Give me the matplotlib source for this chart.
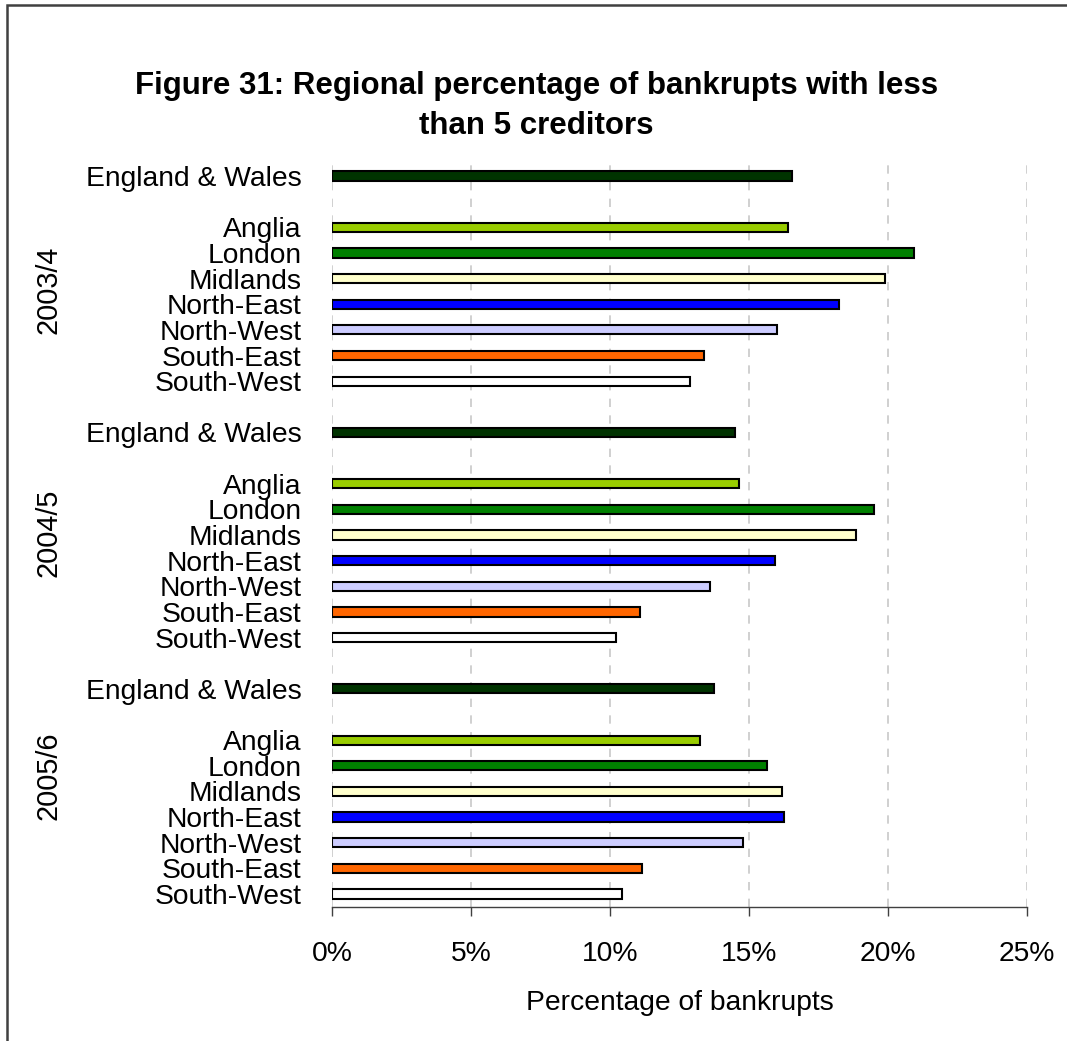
import matplotlib
matplotlib.use("Agg")
import matplotlib.pyplot as plt
from matplotlib.patches import Rectangle
from matplotlib.ticker import FuncFormatter
from matplotlib.transforms import blended_transform_factory

plt.rcParams['font.family'] = ['Liberation Sans', 'DejaVu Sans']

# Data: percentage of bankrupts with fewer than 5 creditors
years = ['2003/4', '2004/5', '2005/6']
regions = ['England & Wales', 'Anglia', 'London', 'Midlands', 'North-East',
           'North-West', 'South-East', 'South-West']
england_wales = [16.54, 14.50, 13.73]
anglia = [16.39, 14.64, 13.24]
london = [20.94, 19.47, 15.63]
midlands = [19.89, 18.83, 16.18]
north_east = [18.22, 15.91, 16.25]
north_west = [15.99, 13.59, 14.78]
south_east = [13.38, 11.07, 11.14]
south_west = [12.88, 10.22, 10.43]
x_ticks = [0, 5, 10, 15, 20, 25]

series = [england_wales, anglia, london, midlands, north_east,
          north_west, south_east, south_west]
colors = ['#003300', '#99CC00', '#008000', '#FFFFCC', '#0000FF',
          '#CCCCFF', '#FF6600', '#FFFFFF']

# Row offsets inside one year block: national total, a gap, then the regions
row_offsets = [0, 2, 3, 4, 5, 6, 7, 8]
block_size = 10
year_label_rows = [4.45, 13.9, 23.4]

FS = 20.3

fig = plt.figure(figsize=(10.67, 10.41), dpi=100)
W, H = 1067, 1041
ax = fig.add_axes([332.3 / W, 134.2 / H, 695 / W, 743.6 / H])

ypos, widths, cols, labels = [], [], [], []
for g, yr in enumerate(years):
    for s, off in enumerate(row_offsets):
        ypos.append(g * block_size + off)
        widths.append(series[s][g])
        cols.append(colors[s])
        labels.append(regions[s])

ax.barh(ypos, widths, height=0.36, color=cols, edgecolor='black',
        linewidth=1.5, zorder=3)

ax.set_ylim(28.5, -0.5)
ax.set_xlim(0, 25)
ax.set_yticks(ypos)
ax.set_yticklabels(labels, fontsize=FS)
ax.tick_params(axis='y', length=0, pad=22)

ax.set_xticks(x_ticks)
ax.xaxis.set_major_formatter(FuncFormatter(lambda v, p: f"{int(v)}%"))
ax.tick_params(axis='x', direction='out', length=6.5, width=1.0,
               color='#404040', labelsize=FS, pad=18)
ax.set_xlabel('Percentage of bankrupts', fontsize=FS, labelpad=17)

ax.grid(axis='x', color='#c8c8c8', linestyle=(0, (5, 5)), linewidth=1.2,
        zorder=0)
ax.set_axisbelow(True)
for side in ['top', 'right', 'left']:
    ax.spines[side].set_visible(False)
ax.spines['bottom'].set_color('#404040')
ax.spines['bottom'].set_linewidth(1.0)

# Year labels, rotated, to the left of each block
trans = blended_transform_factory(fig.transFigure, ax.transData)
for yr, r in zip(years, year_label_rows):
    ax.text(49 / W, r, yr, transform=trans, rotation=90,
            ha='center', va='center', fontsize=FS + 0.5)

fig.text(0.503, 1 - 106 / H,
         'Figure 31: Regional percentage of bankrupts with less\nthan 5 creditors',
         ha='center', va='center', fontsize=22.5, fontweight='bold',
         linespacing=1.46)

# Outer frame
fig.patches.append(Rectangle((7 / W, -0.02), 1.1, 1 - 5 / H + 0.02,
                             transform=fig.transFigure, fill=False,
                             edgecolor='#404040', linewidth=1.8))

fig.savefig('out.png', dpi=100, facecolor='white')
